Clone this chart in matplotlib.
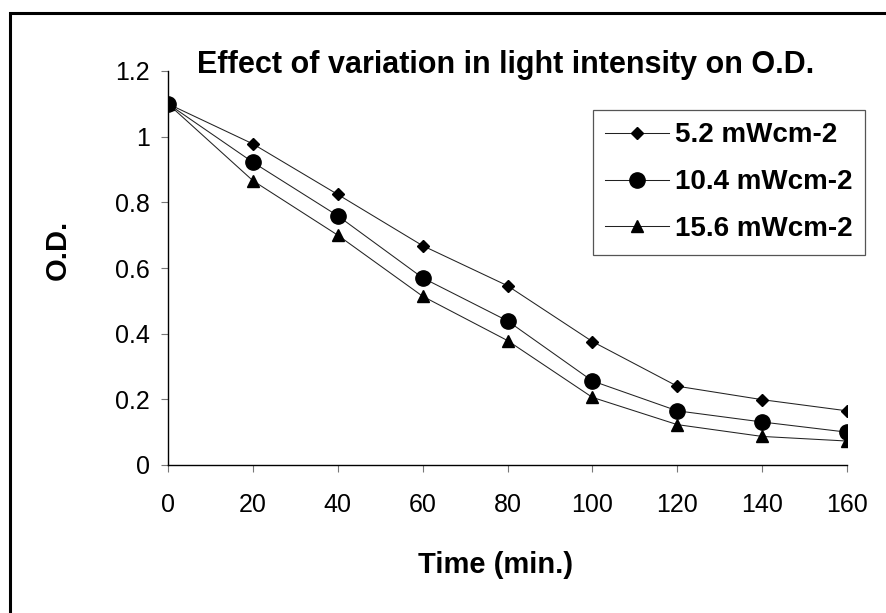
import matplotlib
matplotlib.use('Agg')
import matplotlib.pyplot as plt
from matplotlib.patches import Rectangle

plt.rcParams['font.family'] = ['Liberation Sans', 'DejaVu Sans']

time_min = [0, 20, 40, 60, 80, 100, 120, 140, 160]
od_5_2 = [1.1, 0.978, 0.824, 0.668, 0.546, 0.376, 0.240, 0.199, 0.165]
od_10_4 = [1.1, 0.922, 0.759, 0.570, 0.439, 0.256, 0.165, 0.131, 0.100]
od_15_6 = [1.1, 0.866, 0.700, 0.514, 0.379, 0.206, 0.123, 0.087, 0.073]
labels = ['5.2 mWcm-2', '10.4 mWcm-2', '15.6 mWcm-2']

fig = plt.figure(figsize=(8.86, 6.13), dpi=100)
ax = fig.add_axes([168/886, 1-465/613, (847-168)/886, (465-71)/613])

ax.plot(time_min, od_5_2, color='#222222', lw=0.75, marker='D', markersize=6.5,
        markerfacecolor='black', markeredgecolor='black', label=labels[0], zorder=3)
ax.plot(time_min, od_15_6, color='#222222', lw=0.75, marker='^', markersize=8,
        markerfacecolor='black', markeredgecolor='black', label=labels[2], zorder=3)
ax.plot(time_min, od_10_4, color='#222222', lw=0.75, marker='o', markersize=11,
        markerfacecolor='black', markeredgecolor='black', label=labels[1], zorder=4)

ax.set_xlim(0, 160)
ax.set_ylim(0, 1.2)
ax.set_xticks(time_min)
ax.set_yticks([0, 0.2, 0.4, 0.6, 0.8, 1.0, 1.2])
ax.set_yticklabels(['0', '0.2', '0.4', '0.6', '0.8', '1', '1.2'])
ax.tick_params(labelsize=18, length=5, width=0.8, color='#777777')
ax.tick_params(axis='y', pad=8)
ax.tick_params(axis='x', pad=15)
for s in ['top', 'right']:
    ax.spines[s].set_visible(False)
for s in ['left', 'bottom']:
    ax.spines[s].set_color('black')
    ax.spines[s].set_linewidth(1.0)

ax.set_xlabel('Time (min.)', fontsize=21, fontweight='bold')
ax.xaxis.set_label_coords((496-168)/679, (465-551)/394)
ax.set_ylabel('O.D.', fontsize=21, fontweight='bold')
ax.yaxis.set_label_coords((72-168)/679, (465-250)/394)

fig.text(506/886, 1-73/613, 'Effect of variation in light intensity on O.D.',
         ha='center', va='baseline', fontsize=22, fontweight='bold')

h, l = ax.get_legend_handles_labels()
order = [0, 2, 1]
leg = ax.legend([h[i] for i in order], [l[i] for i in order],
                loc='upper right', bbox_to_anchor=(865/886, 1-110/613),
                bbox_transform=fig.transFigure, borderaxespad=0,
                fancybox=False, edgecolor='#555555', framealpha=1,
                prop={'size': 20, 'weight': 'bold'},
                handlelength=2.3, handletextpad=0.2, labelspacing=0.75,
                borderpad=0.45)
leg.get_frame().set_linewidth(0.9)

fig.patches.append(Rectangle((10/886, -0.1), 1.2, 1.1-13/613, transform=fig.transFigure,
                             fill=False, edgecolor='black', lw=2.2))

fig.savefig('out.png', dpi=100)
